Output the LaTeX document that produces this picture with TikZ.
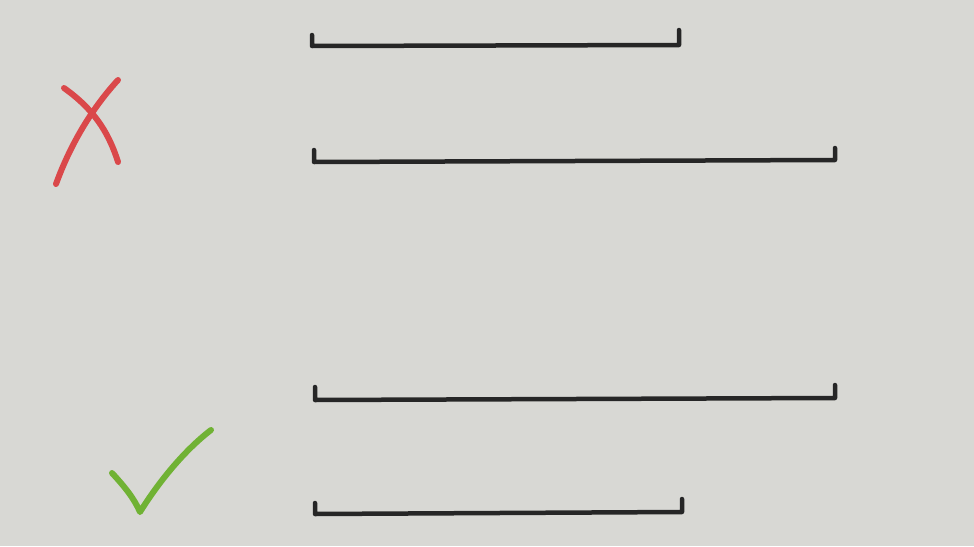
\documentclass[tikz,border=0pt]{standalone}
\usepackage{tikz}
\usetikzlibrary{arrows}
\definecolor{papel}{RGB}{216,216,212}
\definecolor{tinta}{RGB}{38,38,38}
\definecolor{rojo}{RGB}{218,72,74}
\definecolor{verde}{RGB}{112,178,52}

\begin{document}
\begin{tikzpicture}[x=1pt,y=-1pt,line cap=round,line join=round]
 \tikzstyle{corchete}=[draw=tinta,line width=4.5pt]
 \tikzstyle{cruz}=[draw=rojo,line width=6pt]
 \tikzstyle{visto}=[draw=verde,line width=6pt]

   \fill[papel] (0,0) rectangle (974,546);

   % segmentos
   \draw[corchete] (312,35) -- (312,46) -- (679,45) -- (679,30);
   \draw[corchete] (314,150) -- (314,162) -- (835,160) -- (835,148);
   \draw[corchete] (315,387) -- (315,400) -- (835,398) -- (835,385);
   \draw[corchete] (315,503) -- (315,514) -- (682,512) -- (682,499);

   % marcas
   \draw[cruz] (64,88) .. controls (92,108) and (108,130) .. (118,162);
   \draw[cruz] (118,80) .. controls (95,105) and (72,140) .. (56,184);
   \draw[visto] (112,473) .. controls (124,486) and (134,498) .. (140,512)
     .. controls (160,480) and (185,450) .. (211,430);
\end{tikzpicture}
\end{document}
